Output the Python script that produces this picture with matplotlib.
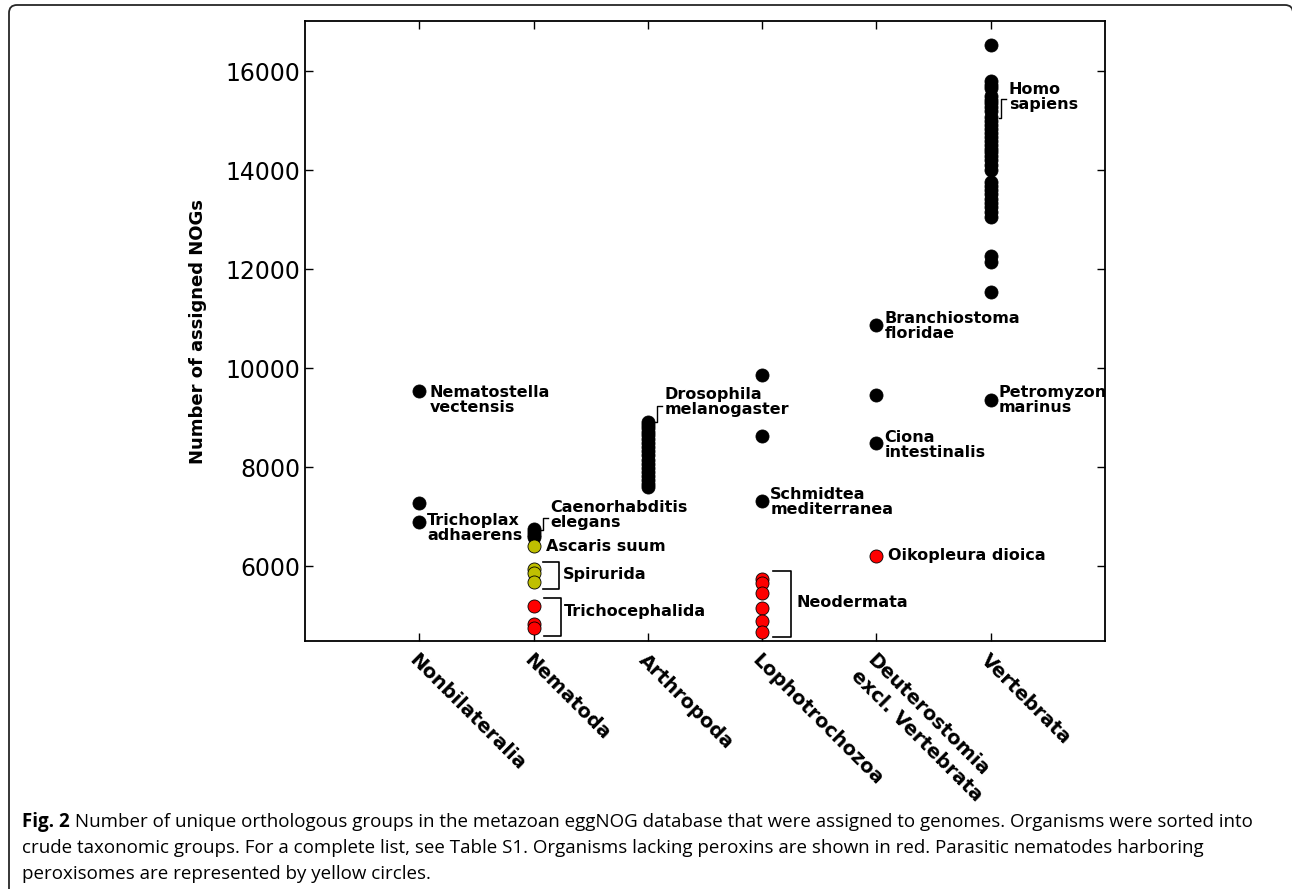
import matplotlib
matplotlib.use("Agg")
import matplotlib.pyplot as plt
from matplotlib.path import Path
from matplotlib.patches import PathPatch
from matplotlib.transforms import IdentityTransform

# ---------------- data ----------------
categories = ["Nonbilateralia", "Nematoda", "Arthropoda", "Lophotrochozoa",
              "Deuterostomia\nexcl. Vertebrata", "Vertebrata"]

nonbilateralia_black = [9530, 7270, 6890]
nematoda_black = [6760, 6700, 6640, 6590]
nematoda_yellow = [6400, 5950, 5870, 5680]
nematoda_red = [5190, 4830, 4750]
arthropoda_black = [8920, 8860, 8800, 8720, 8640, 8560, 8480, 8400, 8320,
                    8240, 8150, 8060, 7980, 7900, 7820, 7740, 7660, 7600]
lophotrochozoa_black = [9870, 8625, 7310]
lophotrochozoa_red = [5740, 5660, 5450, 5150, 4890, 4670]
deuterostomia_black = [10870, 9455, 8480]
deuterostomia_red = [6205]
vertebrata_black = [16525, 15790, 15720, 15650, 15500, 15420, 15360, 15280,
                    15200, 15080, 15000, 14900, 14820, 14740, 14660, 14580,
                    14500, 14430, 14360, 14280, 14200, 14100, 14000, 13750,
                    13680, 13600, 13520, 13420, 13330, 13250, 13150, 13050,
                    12270, 12140, 11540, 9360]

yticks = [6000, 8000, 10000, 12000, 14000, 16000]

# labels: (text, x, y)
labels = [
    ("Nematostella\nvectensis", 1.088, 9353),
    ("Trichoplax\nadhaerens", 1.070, 6768),
    ("Caenorhabditis\nelegans", 2.149, 7030),
    ("Ascaris suum", 2.105, 6404),
    ("Spirurida", 2.254, 5838),
    ("Trichocephalida", 2.263, 5091),
    ("Drosophila\nmelanogaster", 3.149, 9313),
    ("Schmidtea\nmediterranea", 4.070, 7293),
    ("Neodermata", 4.298, 5273),
    ("Branchiostoma\nfloridae", 5.070, 10848),
    ("Ciona\nintestinalis", 5.070, 8444),
    ("Oikopleura dioica", 5.105, 6222),
    ("Homo\nsapiens", 6.158, 15474),
    ("Petromyzon\nmarinus", 6.070, 9353),
]

# brackets "]" : (x_left, x_right, y_bottom, y_top)
square_brackets = [
    (2.079, 2.219, 5535, 6081),
    (2.088, 2.237, 4586, 5354),
    (4.096, 4.254, 4566, 5899),
]
# small hook brackets: (x, y_bottom, y_top)
hook_brackets = [
    (2.079, 6727, 6970),
    (3.079, 8909, 9232),
    (6.088, 15050, 15433),
]

caption_bold = "Fig. 2"
caption_lines = [
    " Number of unique orthologous groups in the metazoan eggNOG database that were assigned to genomes. Organisms were sorted into",
    "crude taxonomic groups. For a complete list, see Table S1. Organisms lacking peroxins are shown in red. Parasitic nematodes harboring",
    "peroxisomes are represented by yellow circles.",
]

# ---------------- figure ----------------
W, H = 1292, 889
fig = plt.figure(figsize=(W / 100, H / 100), dpi=100)
ax = fig.add_axes([305 / W, 1 - 641 / H, 800 / W, 620 / H])

ms = 9.4
groups = [
    (1, nonbilateralia_black, "k"),
    (2, nematoda_black, "k"),
    (3, arthropoda_black, "k"),
    (4, lophotrochozoa_black, "k"),
    (5, deuterostomia_black, "k"),
    (6, vertebrata_black, "k"),
    (2, nematoda_yellow, (0.75, 0.75, 0.0)),
    (2, nematoda_red, "r"),
    (4, lophotrochozoa_red, "r"),
    (5, deuterostomia_red, "r"),
]
for xi, vals, col in groups:
    ax.plot([xi] * len(vals), vals, "o", color=col, markersize=ms,
            markeredgecolor="k", markeredgewidth=0.6, linestyle="none")

for txt, x, y in labels:
    ax.text(x, y, txt, fontsize=11.5, fontweight="bold", ha="left",
            va="center", linespacing=1.0)

for xl, xr, yb, yt in square_brackets:
    ax.plot([xl, xr, xr, xl], [yt, yt, yb, yb], color="k", lw=1.2)
for x, yb, yt in hook_brackets:
    ax.plot([x - 0.018, x, x, x + 0.045], [yb, yb, yt, yt], color="k", lw=1.0)

ax.set_xlim(0, 7)
ax.set_ylim(4490, 17010)
ax.set_xticks(range(1, 7))
ax.set_xticklabels(categories, rotation=-45, ha="left", va="top",
                   rotation_mode="anchor", fontweight="bold", fontsize=14,
                   multialignment="left")
ax.set_yticks(yticks)
ax.tick_params(axis="y", labelsize=17)
ax.tick_params(direction="in", top=True, right=True, length=6, width=1)
ax.tick_params(axis="x", pad=7)
for s in ax.spines.values():
    s.set_linewidth(1.3)
ax.set_ylabel("Number of assigned NOGs", fontsize=13, fontweight="bold")
ax.yaxis.set_label_coords((207 - 305) / 800, 0.5)

# caption
renderer = fig.canvas.get_renderer()
x0 = 22 / W
ys = [822, 848, 874]
cfs = 13.5
tb = fig.text(x0, 1 - ys[0] / H, caption_bold, fontsize=cfs, fontweight="bold",
              family="Open Sans", va="center", ha="left")
bb = tb.get_window_extent(renderer=renderer)
fig.text(bb.x1 / W, 1 - ys[0] / H, caption_lines[0], fontsize=cfs,
         family="Open Sans", va="center", ha="left")
for line, yy in zip(caption_lines[1:], ys[1:]):
    fig.text(x0, 1 - yy / H, line, fontsize=cfs, family="Open Sans",
             va="center", ha="left")

# frame with rounded corners (display pixels)
r = 8
top = H - 5
left = 9
right = W + 1
verts = [(left, -10), (left, top - r), (left, top), (left + r, top),
         (right - r, top), (right, top), (right, top - r), (right, -10)]
codes = [Path.MOVETO, Path.LINETO, Path.CURVE3, Path.CURVE3,
         Path.LINETO, Path.CURVE3, Path.CURVE3, Path.LINETO]
frame = PathPatch(Path(verts, codes), facecolor="none", edgecolor=(0.15, 0.15, 0.15),
                  lw=1.3, transform=IdentityTransform())
fig.patches.append(frame)

fig.savefig("out.png", dpi=100)
